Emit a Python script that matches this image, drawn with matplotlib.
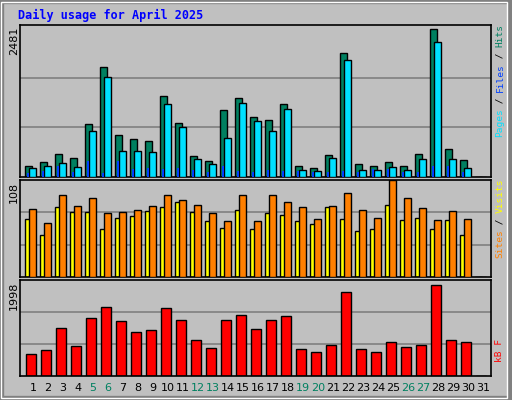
import matplotlib
matplotlib.use("Agg")
import matplotlib.pyplot as plt
import numpy as np

days = list(range(1, 32))
hits = [187,253,384,319,894,1847,713,647,598,1354,910,352,270,1124,1321,1009,960,1222,187,154,368,2093,220,187,253,187,384,2481,467,286,0]
files = [153,187,237,171,779,1682,434,434,417,1222,845,302,220,664,1239,943,779,1140,122,105,319,1962,122,122,171,122,302,2274,302,154,0]
pages = [71,105,187,89,270,71,270,138,154,138,154,122,89,187,105,89,122,105,105,89,89,105,89,138,138,89,89,187,187,89,0]
visits = [76,60,91,79,88,71,72,75,79,91,86,80,71,62,91,62,91,84,78,65,79,93,75,66,108,88,77,63,73,65,0]
sites = [65,47,78,72,72,53,66,68,73,78,83,72,62,55,75,53,71,69,62,59,78,65,51,54,80,64,66,54,63,47,0]
kbytes = [483,571,1054,659,1273,1515,1208,966,1010,1493,1230,791,615,1230,1339,1032,1230,1317,593,527,681,1844,593,527,747,637,681,1998,791,747,0]
weekend = {5,6,12,13,19,20,26,27}
max_hits, max_visits, max_kb = 2481, 108, 1998

W, H = 512, 400
fig = plt.figure(figsize=(W/100, H/100), dpi=100)
fig.patch.set_facecolor('#c0c0c0')
fig.add_artist(plt.Rectangle((0, 0), 1, 1, transform=fig.transFigure, fill=False, ec='#808080', lw=6))
fig.add_artist(plt.Rectangle((0.002, 0.006), 0.988, 0.988, transform=fig.transFigure, fill=False, ec='white', lw=1))

mono = 'DejaVu Sans Mono'
fig.text(18/W, 1-15/H, 'Daily usage for April 2025', color='#0000ff', family=mono,
         weight='bold', fontsize=8.5, va='center', ha='left')

x = np.array(days, dtype=float)
xl = (1 - 5/15, 1 + (471-5)/15)

def mkax(top, bottom):
    ax = fig.add_axes([20/W, 1-bottom/H, 471/W, (bottom-top)/H])
    ax.set_facecolor('#c0c0c0')
    ax.set_xlim(*xl)
    ax.set_xticks([]); ax.set_yticks([])
    for s in ax.spines.values():
        s.set_color('black'); s.set_linewidth(1.2)
    return ax

bk = dict(edgecolor='black', linewidth=1, align='edge')

ax1 = mkax(25, 177)
ax1.set_ylim(0, max_hits*1.03)
for g in (1/3, 2/3):
    ax1.axhline(max_hits*1.03*g*0.98, color='#808080', lw=1.2, zorder=0)
ax1.bar(x, hits, width=7/15, color='#008060', **bk, zorder=2)
ax1.bar(x+4/15, files, width=7/15, color='#00e0ff', **bk, zorder=3)
ax1.bar(x+2/15, pages, width=2/15, color='#0040ff', edgecolor='none', align='edge', zorder=4)

ax2 = mkax(180, 277)
ax2.set_ylim(0, max_visits*1.0)
for g in (1/3, 2/3):
    ax2.axhline(max_visits*g, color='#808080', lw=1.2, zorder=0)
ax2.bar(x, sites, width=7/15, color='#ffff00', **bk, zorder=2)
ax2.bar(x+4/15, visits, width=7/15, color='#ff8000', **bk, zorder=3)

ax3 = mkax(280, 376)
ax3.set_ylim(0, max_kb*1.06)
for g in (1/3, 2/3):
    ax3.axhline(max_kb*1.06*g, color='#808080', lw=1.2, zorder=0)
ax3.bar(x+1/15, kbytes, width=10/15, color='#ff0000', **bk, zorder=2)

for d in days:
    xf = (20 + 5 + 15*(d-1) + 8) / W
    fig.text(xf, 1-388/H, str(d), ha='center', va='center', fontsize=8,
             color='#008060' if d in weekend else 'black')

def left_label(txt, ytop):
    fig.text(14/W, 1-ytop/H, txt, rotation=90, ha='center', va='top', fontsize=8, color='black')
left_label(str(max_hits), 27)
left_label(str(max_visits), 182)
left_label(str(max_kb), 282)

def right_label(parts, ybottom):
    y = ybottom
    for txt, col in parts:
        fig.text(500/W, 1-y/H, txt, rotation=90, ha='center', va='bottom', fontsize=6.8,
                 family=mono, color=col)
        y -= len(txt)*5.65
right_label([('Pages', '#00e0ff'), (' / ', 'black'), ('Files', '#0040ff'), (' / ', 'black'), ('Hits', '#008060')], 137)
right_label([('Sites', '#ff8000'), (' / ', 'black'), ('Visits', '#ffff00')], 258)
right_label([('kB F', '#ff0000')], 362)

fig.savefig('out.png', dpi=100, facecolor=fig.get_facecolor())
